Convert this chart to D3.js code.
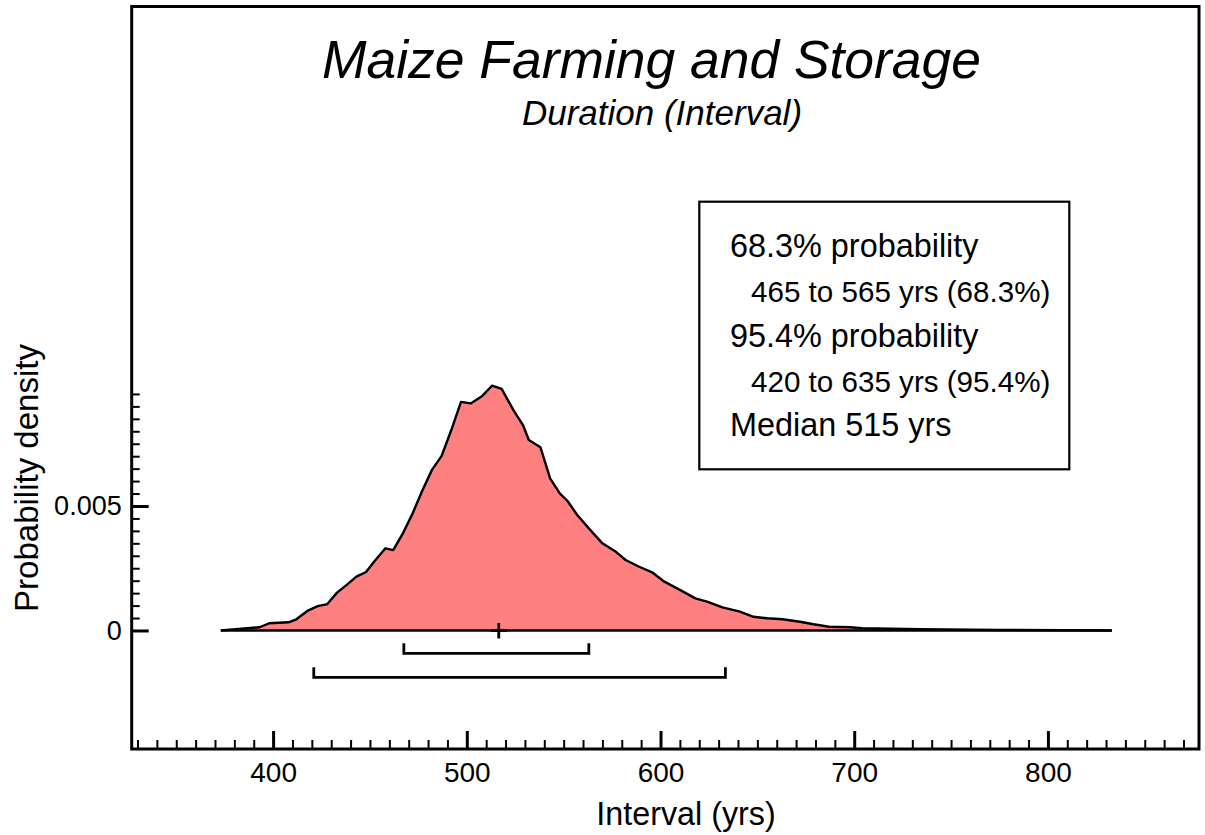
<!DOCTYPE html>
<html>
<head>
<meta charset="utf-8">
<script src="https://cdn.jsdelivr.net/npm/d3@7"></script>
<style>
  html, body { margin: 0; padding: 0; background: #fff; }
  svg { display: block; }
  text { font-family: "Liberation Sans", Arial, Helvetica, sans-serif; fill: #000; }
</style>
</head>
<body>
<svg id="chart" width="1205" height="835"></svg>
<script>
// ---- data ----
const years = [373, 393, 398, 408, 412, 418, 423, 428, 433, 438, 443, 448, 452, 458, 462, 467, 472, 477, 482, 487,
  492, 497, 502, 508, 513, 518, 524, 529, 532, 538, 543, 548, 552, 557, 563, 570, 577, 582, 589, 596,
  602, 610, 618, 624, 632, 641, 648, 655, 663, 672, 679, 687, 698, 704, 734, 775, 833];
const density = [0, 0.00013, 0.00029, 0.00033, 0.00045, 0.0008, 0.00098, 0.00106, 0.00152, 0.00183,
  0.00216, 0.00235, 0.00275, 0.0033, 0.00323, 0.0039, 0.0047, 0.00561, 0.00645, 0.00701,
  0.00805, 0.00918, 0.00912, 0.00942, 0.00983, 0.0097, 0.00886, 0.00825, 0.00765, 0.00736,
  0.00611, 0.00551, 0.0052, 0.00464, 0.0041, 0.0035, 0.00316, 0.00283, 0.00256, 0.00232,
  0.00196, 0.00163, 0.00129, 0.00116, 0.00093, 0.00076, 0.00055, 0.00049, 0.00045, 0.00035,
  0.00025, 0.00015, 0.00013, 0.00009, 0.00005, 0.00002, 0];
const range68 = [467.5, 563];
const range95 = [421, 633.5];
const median = [516.5];
const xMajorTicks = [400, 500, 600, 700, 800];
const yMajorTicks = [0, 0.005];
const yTickLabels = ["0", "0.005"];
const legendLines = ["68.3% probability", "465 to 565 yrs (68.3%)", "95.4% probability", "420 to 635 yrs (95.4%)", "Median 515 yrs"];
const legendIndent = [0, 1, 0, 1, 0];
const titleText = "Maize Farming and Storage";
const subtitleText = "Duration (Interval)";
const xTitle = "Interval (yrs)";
const yTitle = "Probability density";

(function () {
// ---- layout ----
const svg = d3.select("#chart");
const pLeft = 131.7, pRight = 1199, pTop = 6.5, pBottom = 749;
const x = d3.scaleLinear().domain([327, 878]).range([pLeft, pRight]);
const y = d3.scaleLinear().domain([-0.00476, 0.02506]).range([pBottom, pTop]);

const pts = years.map((d, i) => ({ x: d, y: density[i] }));

// area
svg.append("path")
  .datum(pts)
  .attr("fill", "#ff8080")
  .attr("d", d3.area().x(d => x(d.x)).y0(y(0)).y1(d => y(d.y)));
// outline
svg.append("path")
  .datum(pts)
  .attr("fill", "none").attr("stroke", "#000").attr("stroke-width", 2.4).attr("stroke-linejoin", "round")
  .attr("d", d3.line().x(d => x(d.x)).y(d => y(d.y)));
// baseline
svg.append("line")
  .attr("x1", x(years[0])).attr("x2", x(years[years.length - 1]))
  .attr("y1", y(0)).attr("y2", y(0))
  .attr("stroke", "#000").attr("stroke-width", 2.4);

// median cross
svg.selectAll(".med").data(median).enter().append("path")
  .attr("fill", "none").attr("stroke", "#000").attr("stroke-width", 2.8)
  .attr("d", d => `M${x(d)},${y(0) - 7.5}V${y(0) + 8}M${x(d) - 8},${y(0)}H${x(d) + 8}`);

// range brackets
const brackets = [{ r: range68, off: 22.8 }, { r: range95, off: 46.8 }];
svg.selectAll(".br").data(brackets).enter().append("path")
  .attr("fill", "none").attr("stroke", "#000").attr("stroke-width", 2.8)
  .attr("d", d => {
    const yy = y(0) + d.off;
    return `M${x(d.r[0])},${yy - 10}V${yy}H${x(d.r[1])}V${yy - 10}`;
  });

// x axis minor ticks
const xMinor = d3.range(330, 871, 10).filter(v => v % 100 !== 0);
const gxm = svg.append("g").attr("transform", `translate(0,${pBottom})`)
  .call(d3.axisBottom(x).tickValues(xMinor).tickSize(-9).tickFormat(""));
gxm.select(".domain").remove();
gxm.selectAll("line").attr("stroke", "#000").attr("stroke-width", 2);
const gx = svg.append("g").attr("transform", `translate(0,${pBottom})`)
  .call(d3.axisBottom(x).tickValues(xMajorTicks).tickSize(-18).tickPadding(13).tickFormat(d3.format("d")));
gx.select(".domain").remove();
gx.selectAll("line").attr("stroke", "#000").attr("stroke-width", 3);
gx.selectAll("text").attr("font-size", 28).attr("fill", "#000");

// y axis
const yMinor = d3.range(1, 20).map(i => i * 0.0005).filter((v, i) => i !== 9);
const gym = svg.append("g").attr("transform", `translate(${pLeft},0)`)
  .call(d3.axisLeft(y).tickValues(yMinor).tickSize(-8).tickFormat(""));
gym.select(".domain").remove();
gym.selectAll("line").attr("stroke", "#000").attr("stroke-width", 2);
const gy = svg.append("g").attr("transform", `translate(${pLeft},0)`)
  .call(d3.axisLeft(y).tickValues(yMajorTicks).tickSize(-17).tickPadding(10)
    .tickFormat((d, i) => yTickLabels[i]));
gy.select(".domain").remove();
gy.selectAll("line").attr("stroke", "#000").attr("stroke-width", 3);
gy.selectAll("text").attr("font-size", 27).attr("fill", "#000");

// frame
svg.append("rect")
  .attr("x", pLeft).attr("y", pTop).attr("width", pRight - pLeft).attr("height", pBottom - pTop)
  .attr("fill", "none").attr("stroke", "#000").attr("stroke-width", 3);

// titles
svg.append("text").attr("x", 651.5).attr("y", 78).attr("text-anchor", "middle")
  .attr("font-size", 53.4).attr("font-style", "italic").text(titleText);
svg.append("text").attr("x", 662).attr("y", 125).attr("text-anchor", "middle")
  .attr("font-size", 35).attr("font-style", "italic").text(subtitleText);
svg.append("text").attr("x", 686).attr("y", 825).attr("text-anchor", "middle")
  .attr("font-size", 32.3).text(xTitle);
svg.append("text").attr("transform", "translate(38,478) rotate(-90)").attr("text-anchor", "middle")
  .attr("font-size", 33).text(yTitle);

// legend
svg.append("rect").attr("x", 699.3).attr("y", 201.7).attr("width", 370).attr("height", 267.6)
  .attr("fill", "#fff").attr("stroke", "#000").attr("stroke-width", 2.2);
const legendBase = [257, 302, 347, 392, 436];
svg.selectAll(".lg").data(legendLines).enter().append("text")
  .attr("x", (d, i) => legendIndent[i] ? 751 : 730)
  .attr("y", (d, i) => legendBase[i])
  .attr("font-size", (d, i) => legendIndent[i] ? 29.6 : 32.4)
  .text(d => d);
})();
</script>
</body>
</html>
